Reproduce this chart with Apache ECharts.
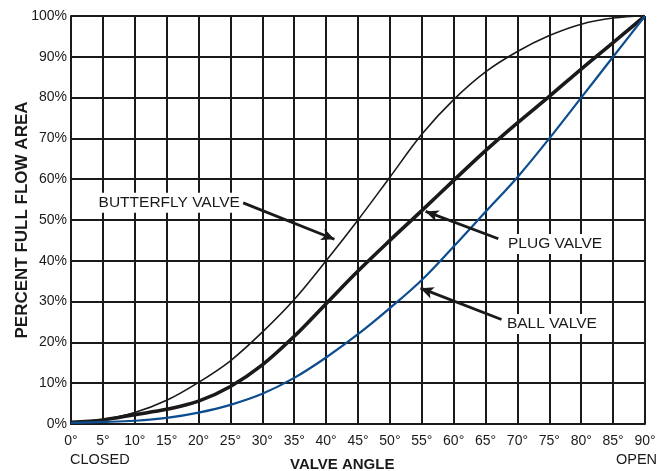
<!DOCTYPE html>
<html><head><meta charset="utf-8">
<script src="https://cdn.jsdelivr.net/npm/echarts@6/dist/echarts.min.js"></script>
<style>html,body{margin:0;padding:0;background:#fff}#c{width:659px;height:471px}</style>
</head><body><div id="c"></div>
<script>
const angles = [0,5,10,15,20,25,30,35,40,45,50,55,60,65,70,75,80,85,90];
const butterfly = [0.4,1.1,2.8,5.8,10.2,15.5,22.5,30.5,40,50,60.5,71,79.5,86.3,91.3,95.2,98,99.5,100];
const plug = [0.4,1.0,2.3,3.6,5.6,9.2,14.5,21.5,29.5,37.5,45,52.3,59.7,67,73.8,80.3,87,93.5,100];
const ball = [0.3,0.5,0.8,1.5,2.8,4.7,7.4,11.3,16.3,22,28.4,35.3,43.5,52,60.5,70,80,90,100];

const labelNames = ['BUTTERFLY VALVE','PLUG VALVE','BALL VALVE'];
const labelPos = [[15.4,54.2],[75.9,44.1],[75.4,24.5]];
const arrowFrom = [[27.0,54.2],[67.0,45.4],[67.5,25.6]];
const arrowTo = [[41.3,45.3],[55.6,52.1],[54.8,33.3]];

const FONT = '"Liberation Sans", Arial, Helvetica, sans-serif';
const INK = '#1a1a1a';

function pairs(xs, ys){ return xs.map((x,i)=>[x, ys[i]]); }

const chart = echarts.init(document.getElementById('c'), null, {renderer:'canvas'});
chart.setOption({
  animation:false,
  backgroundColor:'#fff',
  grid:{left:71, right:14, top:16, bottom:47, containLabel:false, outerBoundsMode:'none'},
  xAxis:{type:'value', min:0, max:90, interval:5,
    axisLine:{show:true, lineStyle:{color:INK, width:2}},
    axisTick:{show:false},
    axisLabel:{formatter:'{value}°', color:INK, fontSize:14, fontFamily:FONT, margin:10},
    splitLine:{show:true, lineStyle:{color:INK, width:2}}},
  yAxis:{type:'value', min:0, max:100, interval:10,
    name:'PERCENT FULL FLOW AREA', nameLocation:'middle', nameGap:40, nameRotate:90,
    nameMoveOverlap:false,
    nameTextStyle:{color:INK, fontSize:17, fontWeight:'bold', fontFamily:FONT},
    axisLine:{show:true, lineStyle:{color:INK, width:2}},
    axisTick:{show:false},
    axisLabel:{formatter:'{value}%', color:INK, fontSize:14, fontFamily:FONT, margin:4},
    splitLine:{show:true, lineStyle:{color:INK, width:2}}},
  graphic:[
    {type:'text', left:70, top:452, style:{text:'CLOSED', fill:INK, font:'14.5px '+FONT}},
    {type:'text', left:290, top:457, style:{text:'VALVE ANGLE', fill:INK, font:'bold 15px '+FONT}},
    {type:'text', left:616, top:452, style:{text:'OPEN', fill:INK, font:'14.5px '+FONT}}
  ],
  series:[
    {name:'Butterfly', type:'line', smooth:0.35, showSymbol:false, data:pairs(angles,butterfly),
      lineStyle:{color:INK, width:1.6}, z:3},
    {name:'Plug', type:'line', smooth:0.35, showSymbol:false, data:pairs(angles,plug),
      lineStyle:{color:INK, width:3.6}, z:3},
    {name:'Ball', type:'line', smooth:0.35, showSymbol:false, data:pairs(angles,ball),
      lineStyle:{color:'#0d4d8f', width:2.2}, z:3},
    {name:'annot', type:'line', data:[], silent:true, z:5,
      markLine:{silent:true, animation:false, symbol:['none','arrow'], symbolSize:[9,13],
        lineStyle:{color:INK, width:2.8, type:'solid'}, label:{show:false},
        data: arrowFrom.map((f,i)=>[{coord:f},{coord:arrowTo[i]}])},
      markPoint:{silent:true, animation:false, symbol:'rect', symbolSize:0,
        label:{show:true, position:'inside', color:INK, fontSize:15.5, fontFamily:FONT,
          backgroundColor:'#fff', padding:[2,2], formatter:p=>p.name},
        data: labelNames.map((n,i)=>({name:n, coord:labelPos[i]}))}
    }
  ]
});
</script></body></html>
